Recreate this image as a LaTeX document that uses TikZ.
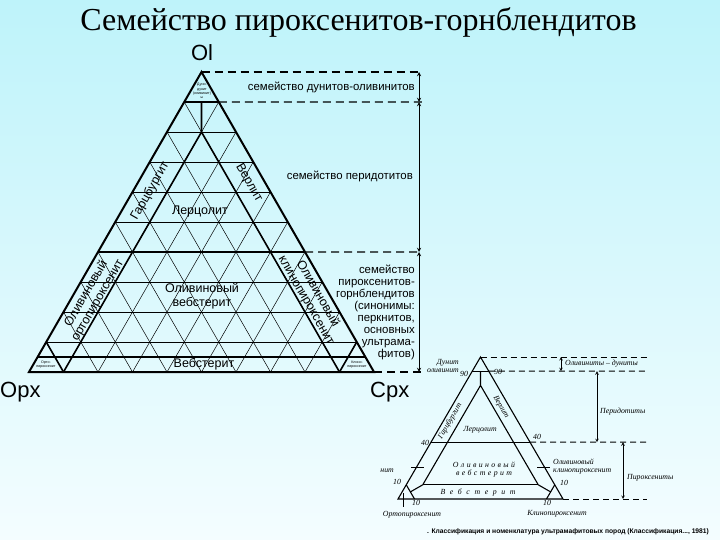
\documentclass[tikz,border=0pt]{standalone}
\usepackage{fontspec}
\setmainfont{Liberation Serif}
\setsansfont{Liberation Sans}
\usetikzlibrary{calc}
\definecolor{bgtop}{RGB}{190,243,250}
\definecolor{bgbot}{RGB}{244,253,255}
\newcommand{\lsp}{\kern2.4pt}
\newcommand{\wsp}{\kern4.6pt}
\begin{document}
\begin{tikzpicture}[x=1pt,y=-1pt,>=stealth,
    gridline/.style={line width=0.5pt},
    bound/.style={line width=1.6pt},
    famline/.style={line width=1.4pt,dash pattern=on 8pt off 5pt},
    famarrow/.style={<->,line width=0.9pt},
    lab/.style={font=\sffamily\fontsize{12.5}{13}\selectfont,inner sep=0pt},
    famlab/.style={font=\sffamily\fontsize{11.4}{12}\selectfont,inner sep=0pt},
    apexlab/.style={font=\sffamily\fontsize{22}{24}\selectfont,inner sep=0pt},
    tinylab/.style={font=\sffamily\fontsize{3.6}{4.2}\selectfont,inner sep=0pt,align=center},
    scanline/.style={line width=1.1pt},
    scandash/.style={line width=1pt,dash pattern=on 6pt off 4pt},
    scanarrow/.style={<->,line width=0.6pt},
    slab/.style={font=\itshape\fontsize{7.8}{8.6}\selectfont,inner sep=0pt}]
   % 背景
   \shade[top color=bgtop,bottom color=bgbot] (0,0) rectangle (720,540);
   \useasboundingbox (0,0) rectangle (720,540);

   \node[font=\fontsize{32}{34}\selectfont,inner sep=0pt,anchor=base] (title) at (358.5,31) {Семейство пироксенитов-горнблендитов};

   % 三角形
   \coordinate (Ol) at (201.5,72);
   \coordinate (Opx) at (29,372);
   \coordinate (Cpx) at (374,372);
   \foreach \i in {1,...,9} {
     \draw[gridline] ($(Opx)!\i/10!(Ol)$) -- ($(Cpx)!\i/10!(Ol)$);
     \draw[gridline] ($(Opx)!\i/10!(Cpx)$) -- ($(Opx)!\i/10!(Ol)$);
     \draw[gridline] ($(Opx)!\i/10!(Cpx)$) -- ($(Ol)!\i/10!(Cpx)$);
   }
   \draw[bound,line width=2pt] (Ol) -- (Opx) -- (Cpx) -- cycle;

   % 境界線
   \coordinate (l90) at ($(Opx)!.9!(Ol)$);
   \coordinate (r90) at ($(Cpx)!.9!(Ol)$);
   \coordinate (m90) at ($(l90)!.5!(r90)$);
   \coordinate (m80) at (201.5,132);
   \coordinate (l40) at ($(Opx)!.4!(Ol)$);
   \coordinate (r40) at ($(Cpx)!.4!(Ol)$);
   \coordinate (l05) at ($(Opx)!.05!(Ol)$);
   \coordinate (r05) at ($(Cpx)!.05!(Ol)$);
   \coordinate (b10) at ($(Opx)!.1!(Cpx)$);
   \coordinate (b90) at ($(Opx)!.9!(Cpx)$);
   \coordinate (l10) at ($(Opx)!.1!(Ol)$);
   \coordinate (r10) at ($(Cpx)!.1!(Ol)$);
   \draw[bound] (l90) -- (r90);
   \draw[bound] (m90) -- (m80);
   \draw[bound] (b10) -- (m80) -- (b90);
   \draw[bound] (l40) -- (r40);
   \draw[bound] (l05) -- (r05);
   \draw[bound] (b10) -- (l10);
   \draw[bound] (b90) -- (r10);

   \node[apexlab,anchor=base] (olname) at (202,61) {Ol};
   \node[apexlab,anchor=base west] (opxname) at (0,397) {Opx};
   \node[apexlab,anchor=base west] (cpxname) at (370,397) {Cpx};

   \node[tinylab] (dunite) at (202,91) {Дуни-\\дунит\\(оливинит)\\ы};
   \node[lab,rotate=60] (harz) at (150,191) {Гарцбургит};
   \node[lab,rotate=-60] (wehr) at (249,183) {Верлит};
   \node[lab] (lherz) at (200,211) {Лерцолит};
   \node[lab,rotate=60,align=center,font=\sffamily\fontsize{12.5}{13.5}\selectfont] (olopx) at (92,297) {Оливиновый\\ортопироксенит};
   \node[lab,rotate=-60,align=center,font=\sffamily\fontsize{12.5}{13.5}\selectfont] (olcpx) at (312,297) {Оливиновый\\клинопироксенит};
   \node[lab,align=center,font=\sffamily\fontsize{12.5}{14}\selectfont] (olweb) at (202,296) {Оливиновый\\вебстерит};
   \node[lab] (web) at (204,364.5) {Вебстерит};
   \node[tinylab] (orthopx) at (46,364.5) {Орто-\\пироксенит};
   \node[tinylab] (clinopx) at (357,364.5) {Клино-\\пироксенит};

   % 補助線
   \coordinate (d0) at (422,72);
   \coordinate (d1) at (422,102);
   \coordinate (d2) at (422,252);
   \coordinate (d3) at (422,372);
   \draw[famline] (Ol) -- (d0);
   \draw[famline] (r90) -- (d1);
   \draw[famline] (r40) -- (d2);
   \draw[famline] (Cpx) -- (d3);
   \coordinate (a0) at (419,72);
   \coordinate (a1) at (419,102);
   \coordinate (a2) at (419,252);
   \coordinate (a3) at (419,372);
   \draw[famarrow] (a0) -- (a1);
   \draw[famarrow] (a1) -- (a2);
   \draw[famarrow] (a2) -- (a3);

   \node[famlab,anchor=base east] (famdun) at (415,90.5) {семейство дунитов-оливинитов};
   \node[famlab,anchor=base east] (famper) at (413,180) {семейство перидотитов};
   \node[famlab,anchor=north east,align=right] (fampyr) at (415,265) {семейство\\пироксенитов-\\горнблендитов\\(синонимы:\\перкнитов,\\основных\\ультрама-\\фитов)};

   % 小さい図
   \begin{scope}
   \clip (380,345) rectangle (720,540);
   \coordinate (sa) at (480.5,357);
   \coordinate (sl) at (398,499);
   \coordinate (sr) at (563,499);
   \coordinate (s90l) at ($(sl)!.9!(sa)$);
   \coordinate (s90r) at ($(sr)!.9!(sa)$);
   \coordinate (s90m) at ($(s90l)!.5!(s90r)$);
   \coordinate (s80m) at (480.5,385.4);
   \coordinate (s40l) at ($(sl)!.4!(sa)$);
   \coordinate (s40r) at ($(sr)!.4!(sa)$);
   \coordinate (sw1) at (422.75,484.8);
   \coordinate (sw2) at (538.25,484.8);
   \coordinate (sc1) at ($(sl)!.1!(sr)$);
   \coordinate (sc1t) at ($(sl)!.1!(sa)$);
   \coordinate (sc2) at ($(sr)!.1!(sl)$);
   \coordinate (sc2t) at ($(sr)!.1!(sa)$);
   \draw[scanline] (sa) -- (sl) -- (sr) -- cycle;
   \draw[scanline] (s90l) -- (s90r);
   \draw[scanline] (s90m) -- (s80m);
   \draw[scanline] (sw1) -- (s80m) -- (sw2);
   \draw[scanline] (s40l) -- (s40r);
   \draw[scanline] (sw1) -- (sw2);
   \draw[scanline] (sc1) -- (sc1t);
   \draw[scanline] (sc2) -- (sc2t);
   \draw[scanline] (sw1) -- ($(sc1)!.5!(sc1t)$);
   \draw[scanline] (sw2) -- ($(sc2)!.5!(sc2t)$);

   \coordinate (se0) at (647,357);
   \coordinate (se1) at (647,371.2);
   \coordinate (se2) at (647,442.2);
   \coordinate (se3) at (647,499);
   \draw[scandash] (sa) -- (se0);
   \draw[scandash] (s90r) -- (se1);
   \draw[scandash] (s40r) -- (se2);
   \draw[scandash] (sr) -- (se3);
   \coordinate (sk0) at (561,357);
   \coordinate (sk1) at (561,371.2);
   \coordinate (sk2) at (597,371.2);
   \coordinate (sk3) at (597,442.2);
   \coordinate (sk4) at (623,442.2);
   \coordinate (sk5) at (623,499);
   \draw[scanarrow] (sk0) -- (sk1);
   \draw[scanarrow] (sk2) -- (sk3);
   \draw[scanarrow] (sk4) -- (sk5);

   % 引出線
   \coordinate (tl1) at (411,467.5);
   \coordinate (tl2) at (424,467.5);
   \coordinate (tr1) at (537,467.5);
   \coordinate (tr2) at (550,467.5);
   \coordinate (tb1) at (403,493);
   \coordinate (tb2) at (403,507);
   \draw[line width=0.6pt] (tl1) -- (tl2);
   \draw[line width=0.6pt] (tr1) -- (tr2);
   \draw[line width=0.6pt] (tb1) -- (tb2);

   \node[slab,anchor=east,align=right] (sdun) at (459,366) {Дунит\\оливинит};
   \node[slab] (s90a) at (464,374) {90};
   \node[slab] (s90b) at (498,372) {90};
   \node[slab] (s40a) at (425,443) {40};
   \node[slab] (s40b) at (537,437) {40};
   \node[slab] (s10a) at (397,482) {10};
   \node[slab] (s10b) at (416,503) {10};
   \node[slab] (s10c) at (564,483) {10};
   \node[slab] (s10d) at (547,503) {10};
   \node[slab,rotate=60] (sharz) at (450,421) {Гарцбургит};
   \node[slab,rotate=-60] (swehr) at (501,407) {Верлит};
   \node[slab] (slherz) at (480,430) {Лерцолит};
   \node[slab,align=center] (solweb) at (484,469.5) {О\lsp л\lsp и\lsp в\lsp и\lsp н\lsp о\lsp в\lsp ы\lsp й\\в\lsp е\lsp б\lsp с\lsp т\lsp е\lsp р\lsp и\lsp т};
   \node[slab] (sweb) at (478,492.5) {В\wsp е\wsp б\wsp с\wsp т\wsp е\wsp р\wsp и\wsp т};
   \node[slab,anchor=east,align=left] (solopx) at (394,466.5) {Оливиновый\\ортопироксенит};
   \node[slab,anchor=west,align=left] (solcpx) at (553,466.5) {Оливиновый\\клинопироксенит};
   \node[slab] (sopx) at (412,515) {Ортопироксенит};
   \node[slab] (scpx) at (557,514) {Клинопироксенит};
   \node[slab,anchor=west] (sfdun) at (565,364) {Оливиниты -- дуниты};
   \node[slab,anchor=west] (sfper) at (600,412) {Перидотиты};
   \node[slab,anchor=west] (sfpyr) at (627,478) {Пироксениты};
   \end{scope}

   \node[font=\sffamily\bfseries\fontsize{6.7}{8}\selectfont,inner sep=0pt,anchor=west] (caption) at (427,532) {. Классификация и номенклатура ультрамафитовых пород (Классификация..., 1981)};
\end{tikzpicture}
\end{document}
